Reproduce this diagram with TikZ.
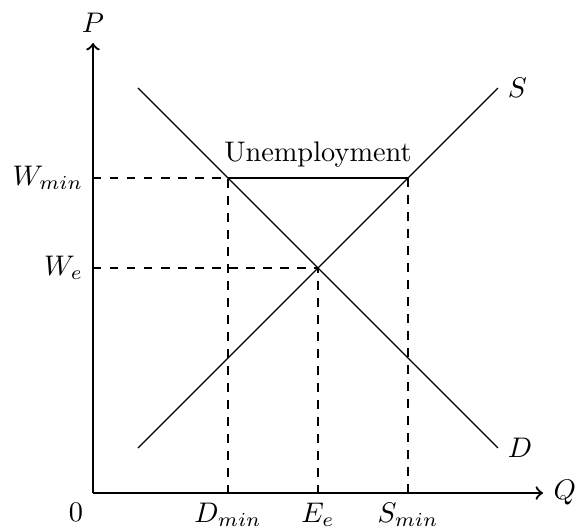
\documentclass[tikz,border=0pt]{standalone}
\usetikzlibrary{calc}
\begin{document}
\begin{tikzpicture}[x=31.75pt,y=31.75pt,
  axis/.style={thick,->},
  curve/.style={thin},
  guide/.style={dashed,thin}]
\useasboundingbox (-1.033,-0.422) rectangle (5.378,5.478);
\coordinate (O) at (0,0);
\coordinate (Xend) at (5,0);
\coordinate (Yend) at (0,5);
\coordinate (S1) at (0.5,0.5);
\coordinate (S2) at (4.5,4.5);
\coordinate (D1) at (0.5,4.5);
\coordinate (D2) at (4.5,0.5);
\coordinate (Wmin) at (0,3.5);
\coordinate (We) at (0,2.5);
\coordinate (Dmin) at (1.5,0);
\coordinate (Ee) at (2.5,0);
\coordinate (Smin) at (3.5,0);
\coordinate (A) at (1.5,3.5);
\coordinate (B) at (3.5,3.5);
\coordinate (E) at (2.5,2.5);
% guides
\draw[guide] (Wmin) -- (A) -- (Dmin);
\draw[guide] (B) -- (Smin);
\draw[guide] (We) -- (E) -- (Ee);
% curves
\draw[curve] (S1) -- (S2) node[right] (Slab) {$S$};
\draw[curve] (D1) -- (D2) node[right] (Dlab) {$D$};
% unemployment
\draw[thick] (A) -- node[above] (U) {Unemployment} (B);
% axes
\draw[axis] (O) -- (Xend) node[right] (Q) {$Q$};
\draw[axis] (O) -- (Yend) node[above] (P) {$P$};
\node[below left] (zero) at (O) {$0$};
\node[left] (WminL) at (Wmin) {$W_{min}$};
\node[left] (WeL) at (We) {$W_e$};
\node[below] (DminL) at (Dmin) {$D_{min}$};
\node[below] (EeL) at (Ee) {$E_e$};
\node[below] (SminL) at (Smin) {$S_{min}$};
\end{tikzpicture}
\end{document}
